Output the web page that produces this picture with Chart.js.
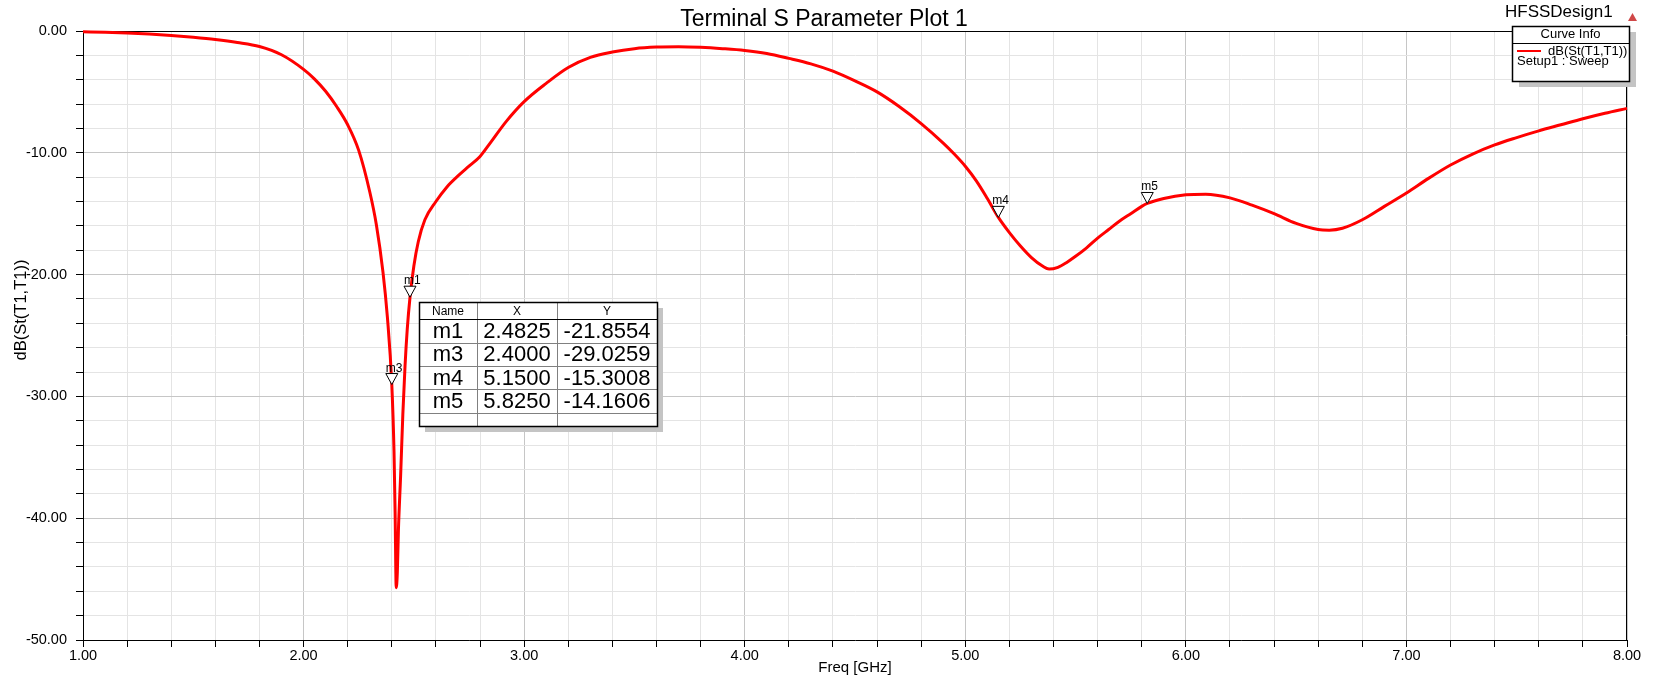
<!DOCTYPE html>
<html>
<head>
<meta charset="utf-8">
<title>Terminal S Parameter Plot 1</title>
<script src="https://cdn.jsdelivr.net/npm/chart.js@4"></script>
<style>
    html, body { margin: 0; padding: 0; background: #fff; }
    #wrap { width: 1655px; height: 681px; }
</style>
</head>
<body>
<div id="wrap"><canvas id="chart" width="1655" height="681"></canvas></div>
<script>
// sweep
const freq = [
    1.0, 1.1, 1.2, 1.3, 1.4, 1.5, 1.6, 1.7, 1.8, 1.9,
    2.0, 2.05, 2.1, 2.15, 2.2, 2.25, 2.3, 2.33, 2.36, 2.38,
    2.40, 2.41, 2.415, 2.42, 2.425, 2.43, 2.44, 2.45, 2.46, 2.47,
    2.4825, 2.50, 2.52, 2.55, 2.6, 2.65, 2.7, 2.75, 2.8,
    2.85, 2.92, 3.0, 3.1, 3.2, 3.3, 3.4, 3.5, 3.6, 3.7,
    3.8, 3.9, 4.0, 4.1, 4.2, 4.3, 4.4, 4.5, 4.6, 4.7,
    4.8, 4.9, 4.95, 5.0, 5.05, 5.1, 5.15, 5.2, 5.25, 5.3, 5.35, 5.38,
    5.42, 5.46, 5.5, 5.55, 5.6, 5.65, 5.7, 5.75, 5.8, 5.825,
    5.9, 6.0, 6.09, 6.2, 6.3, 6.4, 6.5, 6.6, 6.65, 6.71,
    6.8, 6.9, 7.0, 7.1, 7.2, 7.3, 7.4, 7.5, 7.6, 7.7,
    7.8, 7.9, 8.0
];
const s11 = [
    -0.06, -0.1, -0.16, -0.25, -0.37, -0.52, -0.7, -0.94, -1.27, -1.95,
    -3.15, -3.95, -4.95, -6.2, -7.7, -9.8, -13.2, -15.9, -19.8, -23.5,
    -29.03, -34.5, -39.5, -45.7, -44.5, -41.0, -36.5, -31.5, -27.5, -24.5,
    -21.86, -19.3, -17.3, -15.5, -14.0, -12.8, -11.9, -11.1, -10.3,
    -9.1, -7.4, -5.8, -4.3, -3.0, -2.17, -1.73, -1.45, -1.32, -1.29,
    -1.34, -1.45, -1.6, -1.85, -2.25, -2.7, -3.3, -4.1, -5.0, -6.2,
    -7.6, -9.2, -10.1, -11.1, -12.3, -13.75, -15.3, -16.55, -17.65, -18.6, -19.3, -19.55,
    -19.4, -19.0, -18.5, -17.8, -17.0, -16.3, -15.6, -15.0, -14.4, -14.16,
    -13.75, -13.45, -13.4, -13.7, -14.3, -15.0, -15.8, -16.3, -16.35, -16.2,
    -15.5, -14.4, -13.3, -12.1, -11.0, -10.1, -9.35, -8.75, -8.2, -7.7,
    -7.2, -6.75, -6.35
];

const markerNames = ['m1', 'm3', 'm4', 'm5'];
const markerFreq = [2.4825, 2.4000, 5.1500, 5.8250];
const markerDb = [-21.8554, -29.0259, -15.3008, -14.1606];

const FONT = '"Liberation Sans", Arial, sans-serif';

const decorations = {
    id: 'decorations',
    beforeDatasetsDraw(chart) {
        const ctx = chart.ctx;
        const area = chart.chartArea;
        ctx.save();
        ctx.strokeStyle = '#000';
        ctx.lineWidth = 1;
        ctx.beginPath();
        ctx.moveTo(area.left, Math.round(area.top) + 0.5);
        ctx.lineTo(area.right, Math.round(area.top) + 0.5);
        ctx.moveTo(Math.round(area.right) - 0.5, area.top);
        ctx.lineTo(Math.round(area.right) - 0.5, area.bottom);
        ctx.stroke();
        ctx.restore();
    },
    afterDraw(chart) {
        const ctx = chart.ctx;
        const xs = chart.scales.x;
        const ys = chart.scales.y;
        ctx.save();

        // plot title
        ctx.fillStyle = '#000';
        ctx.font = '23px ' + FONT;
        ctx.textAlign = 'center';
        ctx.textBaseline = 'alphabetic';
        ctx.fillText('Terminal S Parameter Plot 1', 824, 26);

        // y axis title
        ctx.save();
        ctx.translate(21, 310);
        ctx.rotate(-Math.PI / 2);
        ctx.font = '16.5px ' + FONT;
        ctx.textAlign = 'center';
        ctx.textBaseline = 'middle';
        ctx.fillText('dB(St(T1,T1))', 0, 0);
        ctx.restore();

        // markers: triangle with its tip on the point
        ctx.font = '12px ' + FONT;
        ctx.textAlign = 'left';
        ctx.textBaseline = 'alphabetic';
        markerNames.forEach((name, i) => {
            const px = xs.getPixelForValue(markerFreq[i]);
            const py = ys.getPixelForValue(markerDb[i]);
            ctx.beginPath();
            ctx.moveTo(px - 6, py - 11);
            ctx.lineTo(px + 6, py - 11);
            ctx.lineTo(px, py);
            ctx.closePath();
            ctx.fillStyle = '#fff';
            ctx.fill();
            ctx.strokeStyle = '#000';
            ctx.lineWidth = 1;
            ctx.stroke();
            ctx.fillStyle = '#000';
            ctx.fillText(name, px - 6, py - 13);
        });

        // marker table
        const tx = 419, ty = 302;
        const cols = [58, 80, 100];
        const rows = [17, 23.5, 23.5, 23, 23.5, 13.5];
        const tw = cols.reduce((a, b) => a + b, 0);
        const th = rows.reduce((a, b) => a + b, 0);
        ctx.fillStyle = '#c4c4c4';
        ctx.fillRect(tx + 6, ty + 6, tw, th);
        ctx.fillStyle = '#fff';
        ctx.fillRect(tx, ty, tw, th);
        ctx.strokeStyle = '#808080';
        ctx.lineWidth = 1;
        ctx.beginPath();
        let cx = tx;
        cols.slice(0, -1).forEach(w => {
            cx += w;
            ctx.moveTo(Math.round(cx) + 0.5, ty);
            ctx.lineTo(Math.round(cx) + 0.5, ty + th);
        });
        let cy = ty + rows[0];
        rows.slice(1, -1).forEach(h => {
            cy += h;
            ctx.moveTo(tx, Math.round(cy) + 0.5);
            ctx.lineTo(tx + tw, Math.round(cy) + 0.5);
        });
        ctx.stroke();
        ctx.strokeStyle = '#000';
        ctx.beginPath();
        ctx.moveTo(tx, ty + rows[0] + 0.5);
        ctx.lineTo(tx + tw, ty + rows[0] + 0.5);
        ctx.stroke();
        ctx.lineWidth = 1.5;
        ctx.strokeRect(tx + 0.5, ty + 0.5, tw, th);

        const colCenter = i => tx + cols.slice(0, i).reduce((a, b) => a + b, 0) + cols[i] / 2;
        ctx.fillStyle = '#000';
        ctx.textAlign = 'center';
        ctx.textBaseline = 'middle';
        ctx.font = '12px ' + FONT;
        ['Name', 'X', 'Y'].forEach((t, i) => ctx.fillText(t, colCenter(i), ty + rows[0] / 2 + 1));
        ctx.font = '22px ' + FONT;
        cy = ty + rows[0];
        markerNames.forEach((name, i) => {
            const mid = cy + rows[i + 1] / 2 + 1;
            ctx.fillText(name, colCenter(0), mid);
            ctx.fillText(markerFreq[i].toFixed(4), colCenter(1), mid);
            ctx.fillText(markerDb[i].toFixed(4), colCenter(2), mid);
            cy += rows[i + 1];
        });

        // curve info box
        const lx = 1512, ly = 26, lw = 117, lh = 55;
        ctx.fillStyle = '#c4c4c4';
        ctx.fillRect(lx + 7, ly + 6, lw, lh);
        ctx.fillStyle = '#fff';
        ctx.fillRect(lx, ly, lw, lh);
        ctx.strokeStyle = '#000';
        ctx.lineWidth = 1.5;
        ctx.strokeRect(lx + 0.5, ly + 0.5, lw, lh);
        ctx.lineWidth = 1;
        ctx.beginPath();
        ctx.moveTo(lx, ly + 17.5);
        ctx.lineTo(lx + lw, ly + 17.5);
        ctx.stroke();
        ctx.fillStyle = '#000';
        ctx.textBaseline = 'alphabetic';
        ctx.textAlign = 'center';
        ctx.font = '13px ' + FONT;
        ctx.fillText('Curve Info', lx + lw / 2, 38);
        ctx.strokeStyle = '#ff0000';
        ctx.lineWidth = 2;
        ctx.beginPath();
        ctx.moveTo(1517, 51);
        ctx.lineTo(1541, 51);
        ctx.stroke();
        ctx.textAlign = 'left';
        ctx.fillText('dB(St(T1,T1))', 1548, 55);
        ctx.fillText('Setup1 : Sweep', 1517, 65);

        // design name and corner icon
        ctx.font = '17px ' + FONT;
        ctx.fillText('HFSSDesign1', 1505, 17);
        ctx.fillStyle = '#d04848';
        ctx.beginPath();
        ctx.moveTo(1632.5, 13);
        ctx.lineTo(1637, 21);
        ctx.lineTo(1628, 21);
        ctx.closePath();
        ctx.fill();

        ctx.restore();
    }
};

const isWhole = v => Math.abs(v - Math.round(v)) < 1e-6;
const isTen = v => Math.abs(v / 10 - Math.round(v / 10)) < 1e-6;

new Chart(document.getElementById('chart'), {
    type: 'line',
    data: {
        datasets: [{
            label: 'dB(St(T1,T1))',
            data: freq.map((f, i) => ({x: f, y: s11[i]})),
            borderColor: '#ff0000',
            borderWidth: 3,
            pointRadius: 0,
            cubicInterpolationMode: 'monotone',
            clip: false
        }]
    },
    options: {
        responsive: false,
        animation: false,
        devicePixelRatio: 1,
        layout: {padding: {left: 0, right: 28, top: 31, bottom: 0}},
        plugins: {
            legend: {display: false},
            tooltip: {enabled: false},
            title: {display: false}
        },
        scales: {
            x: {
                type: 'linear',
                min: 1,
                max: 8,
                ticks: {
                    stepSize: 0.2,
                    autoSkip: false,
                    maxRotation: 0,
                    padding: 0,
                    color: '#000',
                    font: {size: 14.5, family: FONT},
                    callback: v => isWhole(v) ? v.toFixed(2) : ''
                },
                grid: {
                    color: c => isWhole(c.tick.value) ? '#c6c6c6' : '#e4e4e4',
                    tickColor: '#000',
                    tickLength: 7
                },
                border: {color: '#000'},
                title: {
                    display: true,
                    text: 'Freq [GHz]',
                    color: '#000',
                    font: {size: 15, family: FONT},
                    padding: {top: 0, bottom: 4}
                },
                afterFit(scale) {
                    scale.height = 41;
                }
            },
            y: {
                min: -50,
                max: 0,
                ticks: {
                    stepSize: 2,
                    autoSkip: false,
                    padding: 9,
                    color: '#000',
                    font: {size: 14.5, family: FONT},
                    callback: v => isTen(v) ? (v < 0 ? '-' : '') + Math.abs(v).toFixed(2) : ''
                },
                grid: {
                    color: c => isTen(c.tick.value) ? '#c6c6c6' : '#e4e4e4',
                    tickColor: '#000',
                    tickLength: 7
                },
                border: {color: '#000'},
                afterFit(scale) {
                    scale.width = 83;
                }
            }
        }
    },
    plugins: [decorations]
});
</script>
</body>
</html>
